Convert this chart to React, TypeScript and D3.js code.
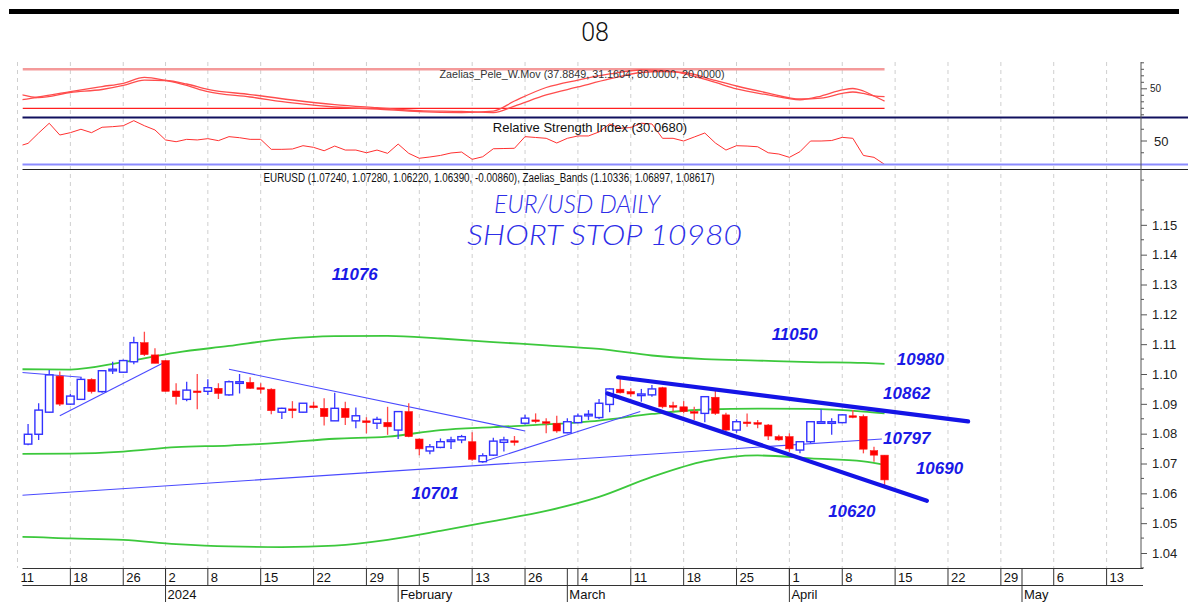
import React, { useEffect, useRef } from "react";
import * as d3 from "d3";

// daily candles, first one sits on bar index 1 (the Dec 11 column is cut off)
const firstIdx = 1;
const opens = [
  1.0765, 1.0798, 1.0872, 1.0993, 1.0899, 1.0915, 1.0982, 1.0941, 1.1011, 1.1006,
  1.1041, 1.1105, 1.1064, 1.1045, 1.0943, 1.0915, 1.0943, 1.0942, 1.0952, 1.093,
  1.0972, 1.0972, 1.0954, 1.0949, 1.0872, 1.0883, 1.0872, 1.0893, 1.0885, 1.0843,
  1.0885, 1.0843, 1.0843, 1.0835, 1.0838, 1.0812, 1.0874, 1.0782, 1.0742, 1.0754,
  1.0775, 1.0779, 1.0773, 1.0706, 1.0728, 1.0771, 1.0776, 1.0835, 1.0846, 1.084,
  1.0835, 1.0803, 1.0837, 1.086, 1.0854, 1.0898, 1.0949, 1.0941, 1.0931, 1.093,
  1.0954, 1.0894, 1.089, 1.0874, 1.0868, 1.0922, 1.0863, 1.0812, 1.0839, 1.0837,
  1.0829, 1.079, 1.079, 1.0745, 1.0773, 1.0838, 1.0838, 1.0837, 1.086, 1.0858,
  1.0743, 1.0728,
];
const highs = [
  1.0832, 1.0902, 1.1013, 1.1008, 1.0933, 1.0989, 1.0986, 1.1013, 1.1041, 1.1049,
  1.1125, 1.1142, 1.1086, 1.1047, 1.0969, 1.0974, 1.1, 1.0982, 1.0969, 1.0978,
  1.1, 1.0989, 1.0969, 1.0952, 1.0887, 1.0909, 1.0902, 1.0907, 1.0919, 1.0937,
  1.0907, 1.0888, 1.0855, 1.0857, 1.089, 1.0874, 1.0902, 1.0784, 1.0765, 1.0784,
  1.079, 1.0796, 1.0805, 1.0734, 1.0786, 1.079, 1.0792, 1.0863, 1.0868, 1.0852,
  1.086, 1.0852, 1.0868, 1.0879, 1.0916, 1.0952, 1.0986, 1.0952, 1.095, 1.0963,
  1.0957, 1.0907, 1.0909, 1.089, 1.0926, 1.0946, 1.087, 1.0848, 1.0868, 1.0846,
  1.0832, 1.0796, 1.0801, 1.0773, 1.084, 1.0882, 1.0852, 1.0866, 1.0879, 1.0864,
  1.0756, 1.0728,
];
const lows = [
  1.0761, 1.0779, 1.087, 1.0893, 1.0896, 1.0913, 1.0935, 1.0937, 1.1, 1.1004,
  1.1033, 1.106, 1.1036, 1.0941, 1.0898, 1.0909, 1.0882, 1.093, 1.0916, 1.0927,
  1.0935, 1.095, 1.0935, 1.0865, 1.0849, 1.0852, 1.087, 1.0885, 1.0827, 1.0843,
  1.0829, 1.0818, 1.0801, 1.0816, 1.0796, 1.0782, 1.0788, 1.0728, 1.0731, 1.0751,
  1.0749, 1.0768, 1.0709, 1.0703, 1.0725, 1.074, 1.076, 1.0831, 1.0835, 1.0801,
  1.0803, 1.0801, 1.0835, 1.0846, 1.0849, 1.0872, 1.0935, 1.0924, 1.0907, 1.0924,
  1.0885, 1.0874, 1.0868, 1.0846, 1.0838, 1.0863, 1.0809, 1.0803, 1.0823, 1.0818,
  1.0779, 1.0776, 1.0739, 1.0734, 1.0768, 1.0835, 1.0796, 1.0835, 1.0852, 1.0734,
  1.0706, 1.0628,
];
const closes = [
  1.0798, 1.0879, 1.0997, 1.0899, 1.0926, 1.0982, 1.0941, 1.1011, 1.1016, 1.1045,
  1.1105, 1.1065, 1.1036, 1.0942, 1.0924, 1.0946, 1.0941, 1.0954, 1.0935, 1.0974,
  1.0974, 1.0952, 1.0949, 1.0877, 1.0885, 1.0877, 1.0902, 1.0887, 1.0857, 1.0885,
  1.0854, 1.086, 1.0837, 1.0848, 1.0823, 1.0874, 1.079, 1.0749, 1.0756, 1.0773,
  1.0779, 1.079, 1.0714, 1.0726, 1.0775, 1.0779, 1.0775, 1.0852, 1.0843, 1.0838,
  1.0809, 1.084, 1.0859, 1.0865, 1.0902, 1.095, 1.0937, 1.0933, 1.0933, 1.095,
  1.089, 1.0892, 1.0874, 1.087, 1.0924, 1.0868, 1.0812, 1.084, 1.0837, 1.0833,
  1.0792, 1.0779, 1.0749, 1.0773, 1.084, 1.084, 1.084, 1.0863, 1.0855, 1.0748,
  1.0728, 1.0645,
];

// x axis (bar index -> label)
const dayTicks = [0, 5, 10, 14, 18, 23, 28, 33, 38, 43, 48, 53, 58, 63, 68, 73, 78, 83, 88, 93, 98, 103];
const dayLabels = ["11", "18", "26", "2", "8", "15", "22", "29", "5", "13", "26", "4", "11", "18", "25", "1", "8", "15", "22", "29", "6", "13"];
const monthTicks = [14, 36, 52, 73, 95];
const monthLabels = ["2024", "February", "March", "April", "May"];
const priceTicks = [1.04, 1.05, 1.06, 1.07, 1.08, 1.09, 1.1, 1.11, 1.12, 1.13, 1.14, 1.15];

// Zaelias bands, sampled along the bar index
const bandIdx = [-1, 0, 5, 10, 15, 20, 25, 30, 35, 40, 45, 50, 55, 60, 65, 70, 75, 80, 82];
const bandUpper = [1.1015, 1.1016, 1.1015, 1.104, 1.1072, 1.1094, 1.1117, 1.1127, 1.1128, 1.1119, 1.1107, 1.1096, 1.1084, 1.1062, 1.105, 1.1045, 1.104, 1.1037, 1.1034];
const bandMid = [1.0732, 1.0732, 1.0733, 1.074, 1.0755, 1.076, 1.077, 1.0783, 1.079, 1.0812, 1.0822, 1.0831, 1.0844, 1.0866, 1.0881, 1.0884, 1.0883, 1.0874, 1.0868];
const bandLower = [1.0454, 1.0454, 1.0449, 1.0444, 1.043, 1.0422, 1.042, 1.0425, 1.0444, 1.0474, 1.0507, 1.0541, 1.0588, 1.0655, 1.0708, 1.0727, 1.0717, 1.0707, 1.0695];

// Zaelias_Pele_W.Mov
const movIdx = [-1, 0, 2, 5, 8, 10, 12, 14, 16, 18, 22, 26, 30, 34, 38, 42, 45, 47, 50, 53, 56, 59, 61, 63, 66, 68, 71, 74, 76, 78, 79, 80, 81, 82];
const movSlow = [40.5, 41.2, 36.6, 44.3, 48.9, 55.1, 63.5, 62.8, 57.4, 49.2, 41.2, 32.8, 25.8, 20.9, 16.3, 15.1, 13.5, 23.5, 40.5, 52.8, 65.1, 75.1, 76.6, 75.1, 62.8, 54.3, 43.5, 34.3, 35.8, 42.8, 45.1, 42.8, 39.2, 37.88];
const movFast = [34.3, 32.8, 37.4, 45.8, 53.5, 58.5, 67.7, 62.8, 55.1, 45.5, 37.4, 28.2, 22.0, 18.9, 14.8, 13.5, 15.8, 31.2, 52.0, 63.5, 72.8, 78.9, 78.2, 73.5, 59.7, 49.7, 40.5, 33.1, 38.9, 48.2, 50.5, 46.6, 38.9, 31.16];

// RSI, one value per bar from index 0
const rsi = [
  45.3, 48.0, 56.8, 65.1, 55.1, 57.1, 60.0, 57.1, 61.7, 62.2, 63.0, 67.3, 63.0, 59.4, 50.9, 49.4, 51.4, 50.9, 52.0, 50.3,
  53.7, 52.8, 51.4, 51.4, 42.9, 42.9, 43.2, 46.0, 44.6, 41.7, 45.7, 42.3, 42.3, 40.0, 42.3, 39.5, 47.4, 39.5, 35.3, 36.4,
  37.7, 39.8, 40.6, 34.4, 36.6, 43.4, 43.6, 43.8, 53.7, 53.0, 52.3, 48.3, 52.3, 54.3, 54.3, 57.7, 64.5, 60.8, 61.5, 65.1,
  64.5, 52.3, 52.3, 50.0, 53.4, 56.8, 48.3, 42.3, 46.0, 45.7, 45.1, 40.0, 38.9, 36.1, 40.9, 50.0, 50.0, 50.4, 53.1, 52.3,
  37.7, 36.1, 30.068,
];

// hand drawn trend lines: [index, price] pairs
const thinLines = [
  [[-1, 1.1009], [6.07, 1.0989]],
  [[4.0, 1.086], [14.0, 1.1041]],
  [[20.0, 1.1016], [48.0, 1.0809]],
  [[43.9, 1.0704], [58.9, 1.0874]],
  [[-0.7, 1.0591], [81.75, 1.0782]],
];
const thickLines = [
  [[56.8, 1.0989], [89.9, 1.0841]],
  [[55.8, 1.0935], [86.0, 1.0575]],
];

const noteText = ["11076", "11050", "10980", "10862", "10797", "10690", "10701", "10620"];
const noteIdx = [31.9, 73.5, 85.4, 84.1, 84.1, 87.2, 39.5, 78.9];
const notePrice = [1.1335, 1.1134, 1.105, 1.0936, 1.0785, 1.0682, 1.0598, 1.0538];

const FONT = "'Liberation Sans', Arial, sans-serif";

export default function App() {
  const ref = useRef(null);

  useEffect(() => {
    const svg = d3.select(ref.current);
    svg.selectAll("*").remove();

    const left = 22.5;
    const axisX = 1141;
    const x = d3.scaleLinear().domain([0, 103]).range([17.5, 1106.6]);
    const y = d3.scaleLinear().domain([1.04, 1.1]).range([553, 374]);
    const yMov = d3.scaleLinear().domain([20, 80]).range([108.3, 69.3]);
    const yRsi = d3.scaleLinear().domain([30, 70]).range([164.5, 117.5]);

    svg.append("rect").attr("width", 1188).attr("height", 616).attr("fill", "#fff");

    const defs = svg.append("defs");
    defs.append("clipPath").attr("id", "plotClip")
      .append("rect").attr("x", left).attr("y", 60).attr("width", axisX - left).attr("height", 510);

    // top bar and title
    svg.append("rect").attr("x", 9).attr("y", 9).attr("width", 1170).attr("height", 5).attr("fill", "#000");
    svg.append("text").attr("x", 595).attr("y", 41).attr("text-anchor", "middle")
      .attr("font-family", "Roboto, 'Liberation Sans', sans-serif").attr("font-weight", 300)
      .attr("font-size", 25).attr("fill", "#111").text("08");

    // dashed week grid
    const grid = svg.append("g");
    dayTicks.forEach((d) => {
      grid.append("line").attr("x1", x(d)).attr("x2", x(d)).attr("y1", 62).attr("y2", 568)
        .attr("stroke", "#cfcfcf").attr("stroke-dasharray", "4,4");
    });

    const plot = svg.append("g").attr("clip-path", "url(#plotClip)");

    // ---- W.Mov panel ----
    const lastI = firstIdx + opens.length - 1;
    plot.append("line").attr("x1", left).attr("x2", x(lastI)).attr("y1", yMov(80)).attr("y2", yMov(80))
      .attr("stroke", "#f49a9a").attr("stroke-width", 2.5);
    plot.append("line").attr("x1", left).attr("x2", x(lastI)).attr("y1", yMov(20)).attr("y2", yMov(20))
      .attr("stroke", "#ff2020").attr("stroke-width", 1.3);
    svg.append("text").attr("x", 582).attr("y", 78).attr("text-anchor", "middle")
      .attr("font-family", FONT).attr("font-size", 10.5).attr("fill", "#333")
      .attr("textLength", 285).attr("lengthAdjust", "spacingAndGlyphs")
      .text("Zaelias_Pele_W.Mov (37.8849, 31.1604, 80.0000, 20.0000)");
    const movLine = (vals) => d3.line().curve(d3.curveMonotoneX)
      .x((d, k) => x(movIdx[k])).y((d) => yMov(d))(vals);
    [movSlow, movFast].forEach((vals) => {
      plot.append("path").attr("d", movLine(vals)).attr("fill", "none")
        .attr("stroke", "#ff4d4d").attr("stroke-width", 1.3);
    });

    // ---- RSI panel ----
    svg.append("line").attr("x1", left).attr("x2", 1188).attr("y1", 117.5).attr("y2", 117.5)
      .attr("stroke", "#10105e").attr("stroke-width", 2);
    svg.append("line").attr("x1", left).attr("x2", 1188).attr("y1", yRsi(30)).attr("y2", yRsi(30))
      .attr("stroke", "#8c8cff").attr("stroke-width", 2);
    svg.append("line").attr("x1", left).attr("x2", 1188).attr("y1", 169.5).attr("y2", 169.5)
      .attr("stroke", "#222").attr("stroke-width", 1);
    svg.append("text").attr("x", 590).attr("y", 132).attr("text-anchor", "middle")
      .attr("font-family", FONT).attr("font-size", 13).attr("fill", "#111")
      .text("Relative Strength Index (30.0680)");
    plot.append("path")
      .attr("d", d3.line().x((d, k) => x(k)).y((d) => yRsi(d))(rsi))
      .attr("fill", "none").attr("stroke", "#ff3030").attr("stroke-width", 1);

    // ---- main price panel ----
    svg.append("text").attr("x", 489).attr("y", 182).attr("text-anchor", "middle")
      .attr("font-family", FONT).attr("font-size", 12).attr("fill", "#111")
      .attr("textLength", 451).attr("lengthAdjust", "spacingAndGlyphs")
      .text("EURUSD (1.07240, 1.07280, 1.06220, 1.06390, -0.00860), Zaelias_Bands (1.10336, 1.06897, 1.08617)");

    const bandLine = (vals) => d3.line().curve(d3.curveMonotoneX)
      .x((d, k) => x(bandIdx[k])).y((d) => y(d))(vals);
    [bandUpper, bandMid, bandLower].forEach((vals) => {
      plot.append("path").attr("d", bandLine(vals)).attr("fill", "none")
        .attr("stroke", "#3cc83c").attr("stroke-width", 1.8);
    });

    thinLines.forEach((pts) => {
      plot.append("line")
        .attr("x1", x(pts[0][0])).attr("y1", y(pts[0][1]))
        .attr("x2", x(pts[1][0])).attr("y2", y(pts[1][1]))
        .attr("stroke", "#4a4aff").attr("stroke-width", 1.1);
    });

    const candles = opens.map((o, k) => ({ i: k + firstIdx, o, h: highs[k], l: lows[k], c: closes[k] }));
    const bw = 7.5;
    const cg = plot.append("g");
    candles.forEach((d) => {
      const up = d.c >= d.o;
      const col = up ? "#3232ff" : "#ff1a1a";
      cg.append("line").attr("x1", x(d.i)).attr("x2", x(d.i)).attr("y1", y(d.h)).attr("y2", y(d.l))
        .attr("stroke", up ? "#3a3aff" : "#ff4a4a").attr("stroke-width", 1.3);
      const top = y(Math.max(d.o, d.c));
      const hgt = Math.max(1.6, Math.abs(y(d.o) - y(d.c)));
      cg.append("rect").attr("x", x(d.i) - bw / 2).attr("y", top).attr("width", bw).attr("height", hgt)
        .attr("fill", up ? "#fff" : "#ff0000").attr("stroke", col).attr("stroke-width", up ? 1.4 : 0.6);
    });

    thickLines.forEach((pts) => {
      plot.append("line")
        .attr("x1", x(pts[0][0])).attr("y1", y(pts[0][1]))
        .attr("x2", x(pts[1][0])).attr("y2", y(pts[1][1]))
        .attr("stroke", "#1414e6").attr("stroke-width", 4.2).attr("stroke-linecap", "round");
    });

    noteText.forEach((t, k) => {
      svg.append("text").attr("x", x(noteIdx[k])).attr("y", y(notePrice[k]))
        .attr("text-anchor", "middle").attr("dominant-baseline", "central")
        .attr("font-family", FONT).attr("font-weight", "bold").attr("font-style", "italic")
        .attr("font-size", 17).attr("fill", "#1a1ae6").text(t);
    });

    // hand written heading
    const hand = "Lato, 'DejaVu Sans', sans-serif";
    svg.append("text").attr("x", 494).attr("y", 213)
      .attr("font-family", hand).attr("font-weight", 300).attr("font-style", "italic")
      .attr("font-size", 26).attr("fill", "#2e2ee8")
      .attr("textLength", 166).attr("lengthAdjust", "spacingAndGlyphs").text("EUR/USD DAILY");
    svg.append("text").attr("x", 467).attr("y", 245)
      .attr("font-family", hand).attr("font-weight", 300).attr("font-style", "italic")
      .attr("font-size", 28).attr("fill", "#2e2ee8")
      .attr("textLength", 275).attr("lengthAdjust", "spacingAndGlyphs").text("SHORT STOP 10980");

    // ---- right axes ----
    svg.append("line").attr("x1", axisX).attr("x2", axisX).attr("y1", 62).attr("y2", 569)
      .attr("stroke", "#555").attr("stroke-width", 1);

    const movTicks = d3.range(10, 100, 10);
    movTicks.forEach((v) => {
      svg.append("line").attr("x1", axisX).attr("x2", axisX + (v === 50 ? 6 : 3))
        .attr("y1", yMov(v)).attr("y2", yMov(v)).attr("stroke", "#555");
    });
    svg.append("text").attr("x", axisX + 9).attr("y", yMov(50)).attr("dominant-baseline", "central")
      .attr("font-family", FONT).attr("font-size", 10).attr("fill", "#222").text("50");

    [40, 50, 60].forEach((v) => {
      svg.append("line").attr("x1", axisX).attr("x2", axisX + (v === 50 ? 6 : 3))
        .attr("y1", yRsi(v)).attr("y2", yRsi(v)).attr("stroke", "#555");
    });
    svg.append("text").attr("x", axisX + 13).attr("y", yRsi(50)).attr("dominant-baseline", "central")
      .attr("font-family", FONT).attr("font-size", 13).attr("fill", "#222").text("50");

    const yAxis = d3.axisRight(y).tickValues(priceTicks).tickSize(6).tickPadding(5)
      .tickFormat(d3.format(".2f"));
    const ya = svg.append("g").attr("transform", `translate(${axisX},0)`).call(yAxis);
    ya.select(".domain").remove();
    ya.selectAll("line").attr("stroke", "#555");
    ya.selectAll("text").attr("font-family", FONT).attr("font-size", 13).attr("fill", "#222");
    d3.range(1.035, 1.17, 0.01).forEach((v) => {
      svg.append("line").attr("x1", axisX).attr("x2", axisX + 3).attr("y1", y(v)).attr("y2", y(v))
        .attr("stroke", "#555");
    });

    // ---- bottom date axis ----
    const ax = svg.append("g").attr("font-family", FONT).attr("fill", "#111");
    const r1 = 568.5, r2 = 585.5, r3 = 602;
    ax.append("line").attr("x1", left).attr("x2", 1143).attr("y1", r1).attr("y2", r1).attr("stroke", "#333");
    ax.append("line").attr("x1", left).attr("x2", 1143).attr("y1", r2).attr("y2", r2).attr("stroke", "#333");
    dayTicks.forEach((d, k) => {
      if (x(d) > left) {
        ax.append("line").attr("x1", x(d)).attr("x2", x(d)).attr("y1", r1).attr("y2", r2).attr("stroke", "#333");
      }
      ax.append("text").attr("x", x(d) + 3).attr("y", 582).attr("font-size", 13).text(dayLabels[k]);
    });
    monthTicks.forEach((m, k) => {
      ax.append("line").attr("x1", x(m)).attr("x2", x(m)).attr("y1", r1).attr("y2", r3).attr("stroke", "#333");
      ax.append("text").attr("x", x(m) + 2).attr("y", 599).attr("font-size", 13).text(monthLabels[k]);
    });
  }, []);

  return (
    <svg ref={ref} width={1188} height={616}
      style={{ position: "absolute", left: 0, top: 0, display: "block" }} />
  );
}
